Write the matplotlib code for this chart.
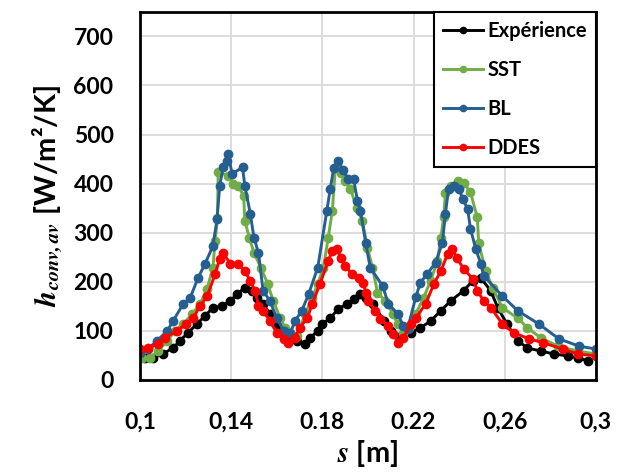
import matplotlib
matplotlib.use("Agg")
import matplotlib.pyplot as plt

plt.rcParams['mathtext.fontset'] = 'stix'

exp_x = [0.1022,0.1057,0.110,0.1145,0.1176,0.121,0.125,0.1286,0.132,0.136,0.1396,0.1426,0.146,0.149,0.1514,0.154,0.157,0.160,0.163,0.166,0.169,0.1725,0.1747,0.178,0.180,0.1835,0.187,0.191,0.1937,0.1967,0.199,0.2024,0.207,0.210,0.2143,0.2187,0.223,0.2275,0.232,0.2363,0.242,0.246,0.2495,0.2538,0.257,0.261,0.2657,0.270,0.2758,0.2815,0.2877,0.292,0.2965]
exp_y = [45,45,53,65,80,96,114,131,147,151,161,175,188,182,167,155,135,114,96,86,80,73,86,100,114,126,145,155,165,175,167,155,120,100,90,96,106,120,141,161,182,202,208,182,147,114,80,65,59,53,49,45,39]

sst_x = [0.101,0.1044,0.108,0.112,0.1154,0.119,0.123,0.1264,0.1295,0.132,0.133,0.134,0.1343,0.1387,0.141,0.143,0.1455,0.146,0.148,0.150,0.153,0.156,0.1585,0.1615,0.1637,0.166,0.169,0.1725,0.1756,0.178,0.1805,0.1826,0.1844,0.1857,0.188,0.190,0.1923,0.195,0.1976,0.1998,0.202,0.2042,0.2077,0.211,0.213,0.2156,0.218,0.221,0.2244,0.2275,0.2305,0.232,0.2332,0.234,0.2363,0.2393,0.242,0.245,0.248,0.2486,0.2517,0.2547,0.259,0.2657,0.270,0.2758,0.2833,0.292,0.300]
sst_y = [45,45,59,80,100,114,135,155,186,229,284,329,424,416,400,396,375,324,290,259,229,196,161,126,106,96,90,135,167,196,229,290,345,431,422,406,390,351,324,269,229,178,161,135,114,96,106,135,167,202,243,290,331,380,396,406,402,382,331,278,222,188,147,126,106,86,69,59,53]

bl_x = [0.100,0.1035,0.1075,0.112,0.1145,0.119,0.122,0.1255,0.1286,0.132,0.1338,0.135,0.1365,0.1380,0.1387,0.1404,0.145,0.146,0.1484,0.150,0.152,0.154,0.157,0.160,0.163,0.166,0.168,0.171,0.174,0.178,0.182,0.1835,0.185,0.187,0.189,0.1914,0.1937,0.1954,0.1967,0.199,0.201,0.2064,0.209,0.213,0.2156,0.2174,0.221,0.223,0.226,0.2297,0.2327,0.234,0.2354,0.2376,0.240,0.2415,0.2437,0.245,0.2473,0.2495,0.2508,0.259,0.2657,0.275,0.2837,0.2925,0.300]
bl_y = [55,63,80,100,120,155,167,208,237,273,327,396,433,447,461,420,433,396,339,290,259,182,161,126,100,96,120,141,175,229,345,390,431,447,427,410,410,365,345,280,229,192,155,135,110,104,169,198,216,239,280,339,390,396,390,369,349,308,267,237,212,171,141,114,84,69,63]

ddes_x = [0.100,0.1035,0.108,0.111,0.1163,0.120,0.1233,0.1264,0.1295,0.133,0.135,0.1365,0.1396,0.143,0.146,0.1484,0.1505,0.152,0.154,0.157,0.160,0.163,0.165,0.168,0.170,0.1734,0.1756,0.179,0.1826,0.1844,0.1866,0.188,0.190,0.193,0.196,0.198,0.199,0.2002,0.2033,0.2055,0.2086,0.211,0.2134,0.2156,0.2187,0.221,0.2253,0.229,0.232,0.235,0.237,0.239,0.242,0.246,0.248,0.2508,0.254,0.259,0.264,0.2706,0.2767,0.2855,0.292,0.300]
ddes_y = [63,65,73,86,100,114,126,151,171,216,247,259,237,237,222,202,182,151,141,120,96,84,75,86,106,126,155,196,243,263,267,249,233,216,208,198,178,161,141,124,110,94,75,86,114,126,155,196,222,257,267,249,226,206,182,161,147,114,96,84,76,63,53,49]

series_labels = ["Expérience", "SST", "BL", "DDES"]
xticks = [0.1, 0.14, 0.18, 0.22, 0.26, 0.3]
xtick_labels = ["0,1", "0,14", "0.18", "0.22", "0,26", "0,3"]
yticks = [0, 100, 200, 300, 400, 500, 600, 700]

colors = ["#000000", "#70AD47", "#255E91", "#FF0000"]
FONT = "Lato"

fig = plt.figure(figsize=(6.22, 4.72), dpi=100)
ax = fig.add_axes([0.225, 0.195, 0.733, 0.78])

data = [(exp_x, exp_y), (sst_x, sst_y), (bl_x, bl_y), (ddes_x, ddes_y)]
for (xs, ys), lab, c in zip(data, series_labels, colors):
    ax.plot(xs, ys, color=c, lw=2.1, marker='o', ms=6.0, label=lab, clip_on=True)

ax.set_xlim(0.1, 0.3)
ax.set_ylim(0, 750)
ax.set_xticks(xticks)
ax.set_xticklabels(xtick_labels)
ax.set_yticks(yticks)
ax.grid(True, color="#d9d9d9", lw=1.3)
ax.set_axisbelow(True)
for sp in ax.spines.values():
    sp.set_linewidth(2.0)
    sp.set_color("black")
ax.tick_params(axis='x', length=0, pad=23)
ax.tick_params(axis='y', length=0, pad=19)
for t in ax.get_xticklabels() + ax.get_yticklabels():
    t.set_fontfamily(FONT)
    t.set_fontweight("bold")
    t.set_fontsize(16.5)

ax.set_ylabel(r"$\mathbfit{h}_{\mathbfit{conv,av}}$ [W/m²/K]", fontsize=21, fontfamily=FONT, fontweight="bold", labelpad=6)
ax.set_xlabel(r"$\mathbfit{s}$ [m]", fontsize=21, fontfamily=FONT, fontweight="bold", labelpad=4)

leg = ax.legend(loc="upper right", borderaxespad=0, frameon=True, fancybox=False,
                prop={"family": FONT, "weight": "bold", "size": 14.5},
                handlelength=2.0, handletextpad=0.2, labelspacing=0.95,
                borderpad=0.45, markerscale=0.75)
leg.get_frame().set_edgecolor("black")
leg.get_frame().set_linewidth(1.5)
leg.get_frame().set_alpha(1)

fig.savefig("out.png", dpi=100)
